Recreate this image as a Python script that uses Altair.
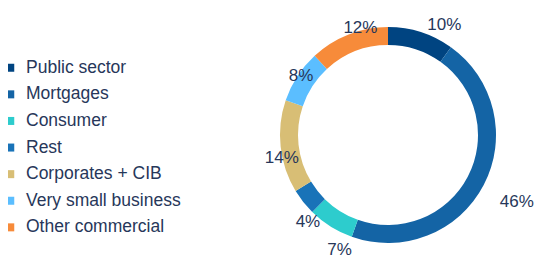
import altair as alt
import pandas as pd

categories = ["Public sector", "Mortgages", "Consumer", "Rest",
              "Corporates + CIB", "Very small business", "Other commercial"]
shares = [10, 46, 7, 4, 14, 8, 12]
labels = ["10%", "46%", "7%", "4%", "14%", "8%", "12%"]
colors = ["#004481", "#1464A5", "#2DCCCD", "#1973B8",
          "#D8BE75", "#5BBEFF", "#F78B3A"]

df = pd.DataFrame({
    "category": categories,
    "share": shares,
    "label": labels,
    "order": list(range(len(categories))),
})

TEXT = "#27375a"
FONT = "Liberation Sans"
CX, CY = 380, 127

base = alt.Chart(df).encode(
    theta=alt.Theta("share:Q", stack=True),
    order=alt.Order("order:Q"),
)

arcs = base.mark_arc(outerRadius=108, innerRadius=90).encode(
    color=alt.Color(
        "category:N",
        scale=alt.Scale(domain=categories, range=colors),
        sort=categories,
        legend=alt.Legend(
            title=None, orient="none", legendX=-6.5, legendY=51,
            symbolType="square", symbolSize=64, symbolStrokeWidth=0,
            labelFont=FONT, labelFontSize=17.5, labelColor=TEXT,
            labelOffset=7, rowPadding=7.6, padding=0,
        ),
    ),
    x=alt.value(CX), y=alt.value(CY),
)

text = base.mark_text(radius=125, dx=18, dy=9, font=FONT, fontSize=17,
                      color=TEXT).encode(
    text="label:N",
    x=alt.value(CX), y=alt.value(CY),
)

chart = alt.layer(arcs, text).properties(
    width=538, height=250, padding=0,
    autosize=alt.AutoSizeParams(type="none"),
    background="white",
).configure_view(stroke=None)

chart.save("out.html", embed_options={"renderer": "svg", "actions": False})
